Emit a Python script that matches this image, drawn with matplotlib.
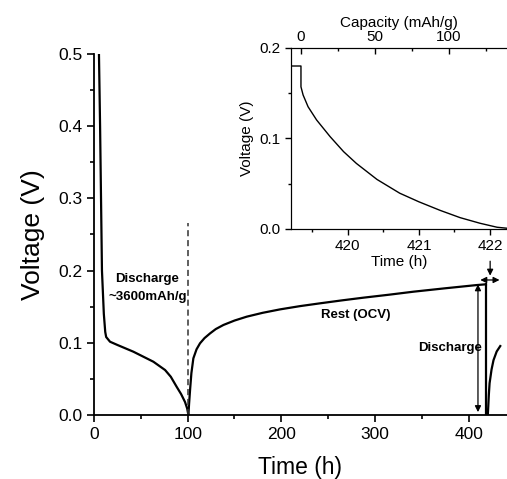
import matplotlib
matplotlib.use('Agg')
import matplotlib.pyplot as plt
from matplotlib.ticker import MultipleLocator

plt.rcParams['font.family'] = ['Liberation Sans', 'DejaVu Sans']

# main curve: discharge, rest (OCV), second discharge, recovery
dis_t = [5.3, 6.5, 7.5, 8.5, 10.5, 12.0, 13.0, 17.1, 25, 42, 63.4, 75.9, 82, 88.3, 93, 97.2, 99.5, 100.8]
dis_v = [0.5, 0.4, 0.3, 0.2, 0.14, 0.115, 0.108, 0.1015, 0.097, 0.0877, 0.0738, 0.0623, 0.053, 0.039, 0.029, 0.018, 0.009, 0.0]
rest_t = [100.8, 101.5, 102.6, 104.0, 106.1, 109.5, 113.2, 118, 123.9, 130, 138.2, 150, 163.1, 180, 198.7, 220, 241.5,
          265, 287.7, 315, 341.2, 375, 408.9, 418.5]
rest_v = [0.0, 0.015, 0.035, 0.058, 0.0785, 0.091, 0.0993, 0.1065, 0.113, 0.119, 0.1247, 0.1308, 0.1362, 0.1415, 0.1463,
          0.1508, 0.1547, 0.1588, 0.1625, 0.1666, 0.1708, 0.1755, 0.18, 0.181]
dis2_t = [418.5, 419.0, 419.0, 420.5]
dis2_v = [0.181, 0.181, 0.0, 0.0]
rec_t = [420.5, 421.0, 421.6, 422.4, 424.5, 426.6, 430, 433.8]
rec_v = [0.0, 0.012, 0.028, 0.044, 0.063, 0.076, 0.088, 0.0955]

# inset: zoom of the second discharge
ins_t = [419.2, 419.34, 419.34, 419.37, 419.44, 419.56, 419.75, 419.94, 420.12, 420.41, 420.73, 421.0, 421.3,
         421.58, 421.86, 422.1, 422.24]
ins_v = [0.18, 0.18, 0.157, 0.148, 0.135, 0.1204, 0.102, 0.0854, 0.0724, 0.0547, 0.0395, 0.030, 0.0205,
         0.0125, 0.0063, 0.0019, 0.0008]
cap_t0 = 419.34   # capacity zero (h)
cap_rate = 48.0   # mAh/g per hour

fig = plt.figure(figsize=(5.07, 4.79), dpi=100)
ax = fig.add_axes([0.1854, 0.1336, 0.8146, 0.7537])
for t, v in [(dis_t, dis_v), (rest_t, rest_v), (dis2_t, dis2_v), (rec_t, rec_v)]:
    ax.plot(t, v, color='black', lw=1.6, solid_joinstyle='round')
ax.plot([100, 100], [0, 0.266], color='#333333', lw=1.1, ls=(0, (4, 2.5)))

ax.set_xlim(0, 441)
ax.set_ylim(0, 0.5)
ax.spines['top'].set_visible(False)
ax.spines['right'].set_visible(False)
ax.spines['left'].set_linewidth(1.3)
ax.spines['bottom'].set_linewidth(1.3)
ax.xaxis.set_major_locator(MultipleLocator(100))
ax.xaxis.set_minor_locator(MultipleLocator(50))
ax.yaxis.set_major_locator(MultipleLocator(0.1))
ax.yaxis.set_minor_locator(MultipleLocator(0.05))
ax.tick_params(which='major', length=5, width=1.2, labelsize=12.5, direction='out')
ax.tick_params(which='minor', length=3, width=1.2, direction='out')
ax.xaxis.set_major_formatter(plt.FuncFormatter(lambda x, p: '%d' % x))
ax.yaxis.set_major_formatter(plt.FuncFormatter(lambda y, p: '%.1f' % y))
ax.set_xlabel('Time (h)', fontsize=16.5, labelpad=10)
ax.set_ylabel('Voltage (V)', fontsize=19, labelpad=9)

ax.text(57, 0.188, 'Discharge', fontsize=9.5, fontweight='bold', ha='center', va='center')
ax.text(57, 0.164, '~3600mAh/g', fontsize=9.5, fontweight='bold', ha='center', va='center')
ax.text(279, 0.139, 'Rest (OCV)', fontsize=9.5, fontweight='bold', ha='center', va='center')
ax.text(380, 0.093, 'Discharge', fontsize=9.5, fontweight='bold', ha='center', va='center')

ax.annotate('', xy=(410, 0.004), xytext=(410, 0.181),
            arrowprops=dict(arrowstyle='<|-|>', color='black', lw=0.9, mutation_scale=9, shrinkA=0, shrinkB=0))
ax.annotate('', xy=(412.5, 0.187), xytext=(433, 0.187),
            arrowprops=dict(arrowstyle='<|-|>', color='black', lw=0.9, mutation_scale=9, shrinkA=0, shrinkB=0))
ax.annotate('', xy=(423, 0.193), xytext=(423, 0.213),
            arrowprops=dict(arrowstyle='-|>', color='black', lw=0.9, mutation_scale=9, shrinkA=0, shrinkB=0))

# inset
ins = fig.add_axes([0.574, 0.522, 0.426, 0.378])
ins.plot(ins_t, ins_v, color='black', lw=1.0)
ins.set_xlim(419.2, 422.24)
ins.set_ylim(0, 0.2)
ins.spines['right'].set_visible(False)
ins.xaxis.set_major_locator(MultipleLocator(1))
ins.xaxis.set_minor_locator(MultipleLocator(0.5))
ins.yaxis.set_major_locator(MultipleLocator(0.1))
ins.yaxis.set_minor_locator(MultipleLocator(0.05))
ins.tick_params(which='major', length=4, width=1.0, labelsize=11, direction='out')
ins.tick_params(which='minor', length=2.5, width=1.0, direction='out')
ins.xaxis.set_major_formatter(plt.FuncFormatter(lambda x, p: '%d' % round(x)))
ins.yaxis.set_major_formatter(plt.FuncFormatter(lambda y, p: '%.1f' % y))
ins.set_xlabel('Time (h)', fontsize=11, labelpad=1)
ins.set_ylabel('Voltage (V)', fontsize=11, labelpad=4)

top = ins.twiny()
top.set_xlim((419.2 - cap_t0) * cap_rate, (422.24 - cap_t0) * cap_rate)
top.spines['right'].set_visible(False)
top.xaxis.set_major_locator(MultipleLocator(50))
top.xaxis.set_minor_locator(MultipleLocator(25))
top.tick_params(which='major', length=4, width=1.0, labelsize=11, direction='in', pad=3)
top.tick_params(which='minor', length=2.5, width=1.0, direction='in')
top.set_xlabel('Capacity (mAh/g)', fontsize=11, labelpad=2)

fig.savefig('out.png', dpi=100)
